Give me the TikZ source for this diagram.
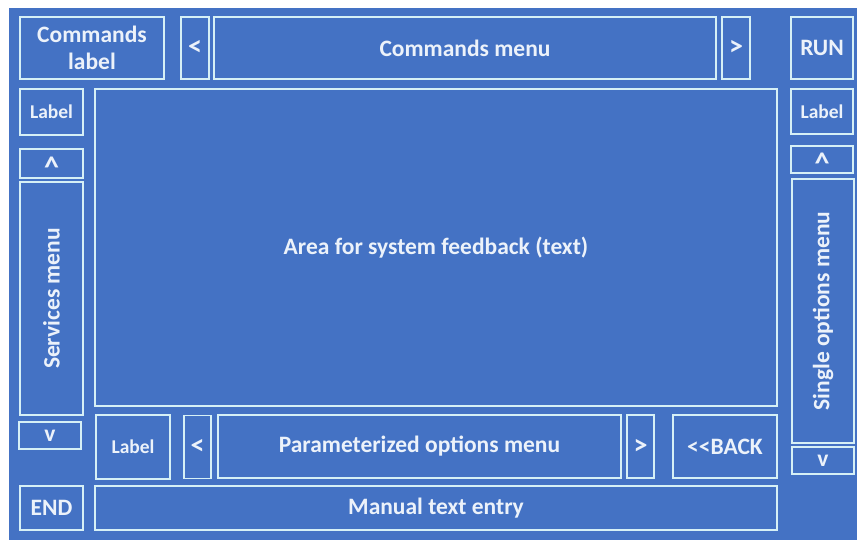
\documentclass[tikz,border=0pt]{standalone}
\usepackage{fontspec}
\setmainfont{Carlito}
\definecolor{panelblue}{RGB}{68,114,196}
\definecolor{edgecyan}{RGB}{214,240,246}
\definecolor{textwhite}{RGB}{236,242,250}
\tikzstyle{panel} = [rectangle, draw=edgecyan, line width=1.6pt, text=textwhite, font=\fontsize{23.5}{27}\selectfont\bfseries, align=center, inner sep=0pt]
\tikzstyle{smalltext} = [font=\fontsize{19.5}{22}\selectfont\bfseries]
\tikzstyle{arrowkey} = [panel, minimum width=28pt, font=\fontsize{28}{28}\selectfont\bfseries]
\tikzstyle{caretkey} = [panel, font=\fontsize{30}{30}\selectfont\bfseries]

\begin{document}
\begin{tikzpicture}[x=1pt, y=-1pt]
\useasboundingbox (0,0) rectangle (857,540);
\fill[panelblue] (9,8) rectangle (857,540);
\node (cmdlabel) [panel, minimum width=144pt, minimum height=62pt] at (92,48) {Commands\\label};
\node (cmdprev) [arrowkey, minimum height=62pt] at (195,48) {<};
\node (cmdmenu) [panel, minimum width=502pt, minimum height=62pt] at (465,48) {Commands menu};
\node (cmdnext) [arrowkey, minimum height=62pt] at (736,48) {>};
\node (run) [panel, minimum width=62pt, minimum height=62pt] at (822,48) {RUN};
\node (svclabel) [panel, smalltext, minimum width=63pt, minimum height=46pt] at (51.5,112) {Label};
\node (feedback) [panel, minimum width=682pt, minimum height=317pt] at (436,247.5) {Area for system feedback (text)};
\node (optlabel) [panel, smalltext, minimum width=62pt, minimum height=45pt] at (822,111.5) {Label};
\node (svcup) [caretkey, minimum width=63pt, minimum height=29pt, text depth=0pt] at (51.5,163.5) {\raisebox{-7pt}{\textasciicircum}};
\node (services) [panel, minimum width=63pt, minimum height=233pt] at (51.5,298.5) {};
\node [text=textwhite, font=\fontsize{23.5}{27}\selectfont\bfseries, rotate=90] at (services.center) {Services menu};
\node (svcdown) [panel, minimum width=62pt, minimum height=27pt] at (50,435.5) {v};
\node (optup) [caretkey, minimum width=62pt, minimum height=27pt, text depth=0pt] at (822,159.5) {\raisebox{-7pt}{\textasciicircum}};
\node (single) [panel, minimum width=62pt, minimum height=264pt] at (823,311) {};
\node [text=textwhite, font=\fontsize{23.5}{27}\selectfont\bfseries, rotate=90] at (single.center) {Single options menu};
\node (optdown) [panel, minimum width=62pt, minimum height=27pt] at (823,460.5) {v};
\node (parlabel) [panel, smalltext, minimum width=74pt, minimum height=64pt] at (133,447) {Label};
\node (parprev) [arrowkey, minimum width=27pt, minimum height=63pt] at (197.5,447) {<};
\node (parmenu) [panel, minimum width=403pt, minimum height=63pt] at (419.5,446.5) {Parameterized options menu};
\node (parnext) [arrowkey, minimum width=27pt, minimum height=63pt] at (640.5,446.5) {>};
\node (back) [panel, minimum width=104pt, minimum height=63pt] at (725,446.5) {<{}<BACK};
\node (end) [panel, minimum width=63pt, minimum height=44pt] at (51.5,508) {END};
\node (manual) [panel, minimum width=682pt, minimum height=44pt] at (436,508) {Manual text entry};
\end{tikzpicture}
\end{document}
